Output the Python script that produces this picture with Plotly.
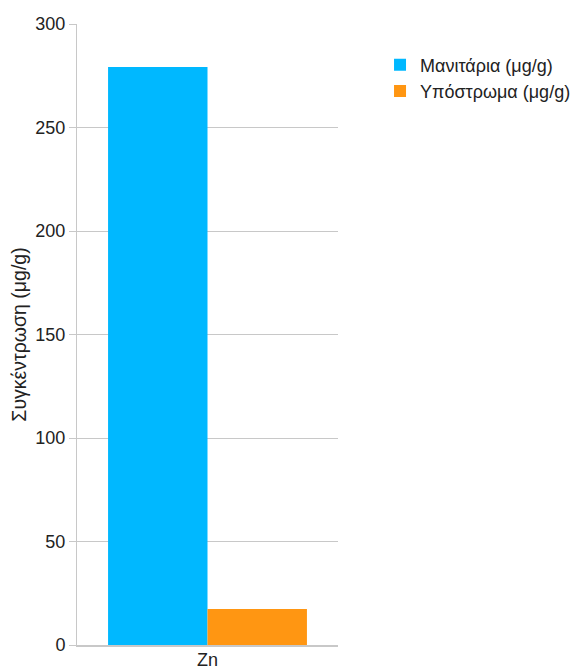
import plotly.graph_objects as go

categories = ["Zn"]
series_names = ["Μανιτάρια (μg/g)", "Υπόστρωμα (μg/g)"]
mushroom_values = [279.2]
substrate_values = [17.4]
y_ticks = [0, 50, 100, 150, 200, 250, 300]

colors = ["#00B8FF", "#FF9612"]
fig = go.Figure()
for name, vals, c in zip(series_names, [mushroom_values, substrate_values], colors):
    fig.add_trace(go.Bar(x=categories, y=vals, name=name, marker=dict(color=c, line=dict(color=c, width=0))))

fig.update_layout(
    width=575, height=663,
    margin=dict(l=69, r=245, t=16, b=26, autoexpand=False),
    paper_bgcolor="white", plot_bgcolor="white",
    barmode="group", bargap=0.238, bargroupgap=0,
    font=dict(family="Liberation Sans, Arial, sans-serif", color="#222222", size=15),
    showlegend=True,
    legend=dict(xref="container", yref="container", x=0.647, y=0.942, xanchor="left", yanchor="top",
                font=dict(size=18), itemwidth=30, tracegroupgap=0, bgcolor="rgba(0,0,0,0)"),
    yaxis=dict(range=[0, 300], tickvals=y_ticks, showgrid=True, gridcolor="#c8c8c8", gridwidth=1,
               showline=True, linecolor="#c8c8c8", linewidth=1, ticks="outside", ticklen=7,
               tickcolor="#c8c8c8", tickfont=dict(size=18), zeroline=False, automargin=False,
               title=dict(text="Συγκέντρωση (μg/g)", font=dict(size=19.5), standoff=10)),
    xaxis=dict(showline=True, linecolor="#c8c8c8", linewidth=2, ticks="", tickfont=dict(size=18),
               automargin=False, ticklabelstandoff=-3),
)
fig.write_html("out.html")
